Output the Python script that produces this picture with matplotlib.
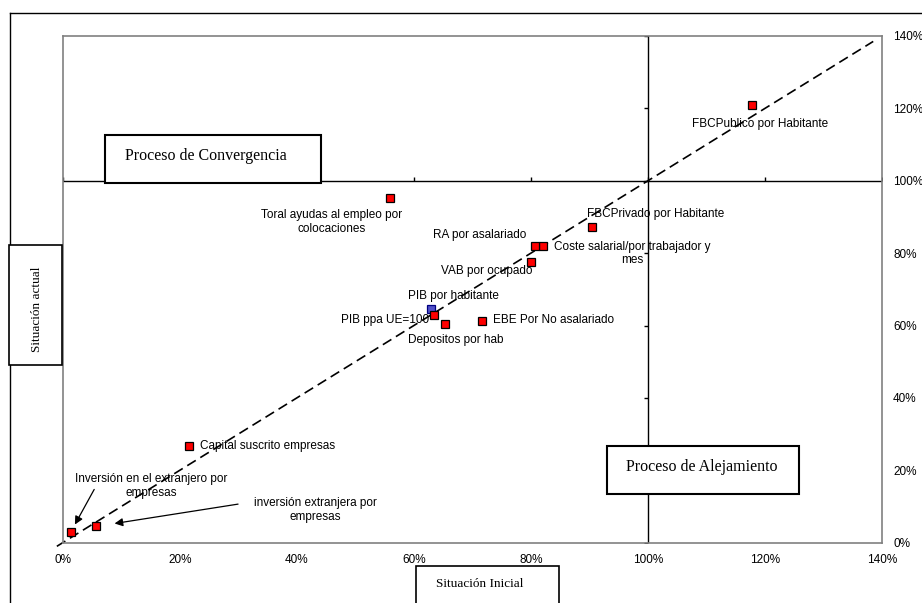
import numpy as np
import matplotlib.pyplot as plt
from matplotlib.patches import Rectangle
from matplotlib.lines import Line2D
from matplotlib.ticker import PercentFormatter

plt.rcParams['font.family'] = ['Liberation Sans', 'DejaVu Sans']

# Datos: situacion inicial (x) y situacion actual (y)
labels = [
    'FBCPublico por Habitante',
    'FBCPrivado por Habitante',
    'Coste salarial/por trabajador y\nmes',
    'RA por asalariado',
    'VAB por ocupado',
    'Toral ayudas al empleo por\ncolocaciones',
    'PIB por habitante',
    'PIB ppa UE=100',
    'Depositos por hab',
    'EBE Por No asalariado',
    'Capital suscrito empresas',
    'Inversión en el extranjero por\nempresas',
    'inversión extranjera por\nempresas',
]
x_inicial = [1.178, 0.905, 0.821, 0.807, 0.801, 0.559, 0.630, 0.635, 0.653, 0.717, 0.216, 0.014, 0.057]
y_actual = [1.209, 0.872, 0.820, 0.820, 0.775, 0.953, 0.646, 0.630, 0.604, 0.612, 0.267, 0.030, 0.045]
highlight = 'PIB por habitante'

ticks = [0, 0.2, 0.4, 0.6, 0.8, 1.0, 1.2, 1.4]
diag = [-0.01, 1.385]

# posicion de etiquetas (px desde el punto: dx, dy hacia abajo, alineacion)
label_pos = [
    (7.5, 19.3, 'center'),
    (63.7, -12.7, 'center'),
    (89.5, 7.5, 'center'),
    (-55, -11, 'center'),
    (-44.7, 8.7, 'center'),
    (-58.2, 24, 'center'),
    (22.2, -12.7, 'center'),
    (-49.3, 5.3, 'center'),
    (11.3, 16, 'center'),
    (10.3, -1, 'left'),
    (10.7, 0, 'left'),
    (80.3, -45.7, 'center'),
    (219.5, -16.3, 'center'),
]
# flechas: (indice, inicio dx, dy, recorte en pt)
arrows = [(11, 23.3, -42.4, 6), (12, 142, -22.3, 13.5)]

W, H = 922, 603
fig = plt.figure(figsize=(W / 100, H / 100), dpi=100)
ax = fig.add_axes([62.7 / W, 1 - 542.7 / H, (882 - 62.7) / W, (542.7 - 36) / H])

ax.set_xlim(0, 1.4)
ax.set_ylim(0, 1.4)
ax.set_xticks(ticks)
ax.set_yticks(ticks)
ax.xaxis.set_major_formatter(PercentFormatter(1.0, decimals=0))
ax.yaxis.set_major_formatter(PercentFormatter(1.0, decimals=0))
ax.yaxis.tick_right()
ax.tick_params(length=0, labelsize=8.5, pad=8)
for s in ax.spines.values():
    s.set_color('#808080')
    s.set_linewidth(1.2)

# ejes que cruzan en 100%
ax.axvline(1.0, color='black', lw=1)
ax.axhline(1.0, color='black', lw=1)
ax.plot([1.0] * len(ticks), ticks, ls='none', marker=0, ms=3, color='black', mew=1)
ax.plot(ticks, [1.0] * len(ticks), ls='none', marker=2, ms=3, color='black', mew=1)

ax.plot(diag, diag, color='black', lw=1.2, dashes=(6, 3.2), clip_on=False)

for i, lab in enumerate(labels):
    if lab == highlight:
        fc, ec = '#5050c8', '#000080'
    else:
        fc, ec = '#ff0000', 'black'
    ax.plot(x_inicial[i], y_actual[i], ls='none', marker='s', ms=5.5, mfc=fc, mec=ec, mew=0.9, zorder=5)
    dx, dy, ha = label_pos[i]
    ax.annotate(lab, (x_inicial[i], y_actual[i]), xytext=(dx * 0.72, -dy * 0.72),
                textcoords='offset points', ha=ha, va='center', fontsize=8.5,
                multialignment='center', zorder=6)

for i, dx, dy, shrink in arrows:
    ax.annotate('', xy=(x_inicial[i], y_actual[i]), xytext=(dx * 0.72, -dy * 0.72),
                textcoords='offset points',
                arrowprops=dict(arrowstyle='-|>', color='black', lw=0.9,
                                mutation_scale=12, shrinkA=0, shrinkB=shrink))

# marco exterior
fig.add_artist(Line2D([9.5 / W, 9.5 / W], [0, 1 - 12.7 / H], transform=fig.transFigure, color='black', lw=1))
fig.add_artist(Line2D([9.5 / W, 1], [1 - 12.7 / H, 1 - 12.7 / H], transform=fig.transFigure, color='black', lw=1))


def box(x0, y0, x1, y1, lw):
    fig.add_artist(Rectangle((x0 / W, 1 - y1 / H), (x1 - x0) / W, (y1 - y0) / H,
                             transform=fig.transFigure, fc='white', ec='black', lw=lw, zorder=3))


serif = ['Liberation Serif', 'DejaVu Serif']
box(104.7, 135, 320.7, 183, 1.5)
fig.text(125 / W, 1 - 156 / H, 'Proceso de Convergencia', family=serif, fontsize=11.5,
         ha='left', va='center', zorder=4)
box(606.7, 446, 798.7, 494.3, 1.5)
fig.text(702 / W, 1 - 467 / H, 'Proceso de Alejamiento', family=serif, fontsize=11.5,
         ha='center', va='center', zorder=4)
box(9, 245, 62.3, 365, 1.2)
fig.text(37 / W, 1 - 309 / H, 'Situación actual', family=serif, fontsize=9.5,
         ha='center', va='center', rotation=90, zorder=4)
box(415.7, 565.7, 559.3, 620, 1.2)
fig.text(480 / W, 1 - 584 / H, 'Situación Inicial', family=serif, fontsize=9.5,
         ha='center', va='center', zorder=4)

fig.savefig('out.png', dpi=100)
